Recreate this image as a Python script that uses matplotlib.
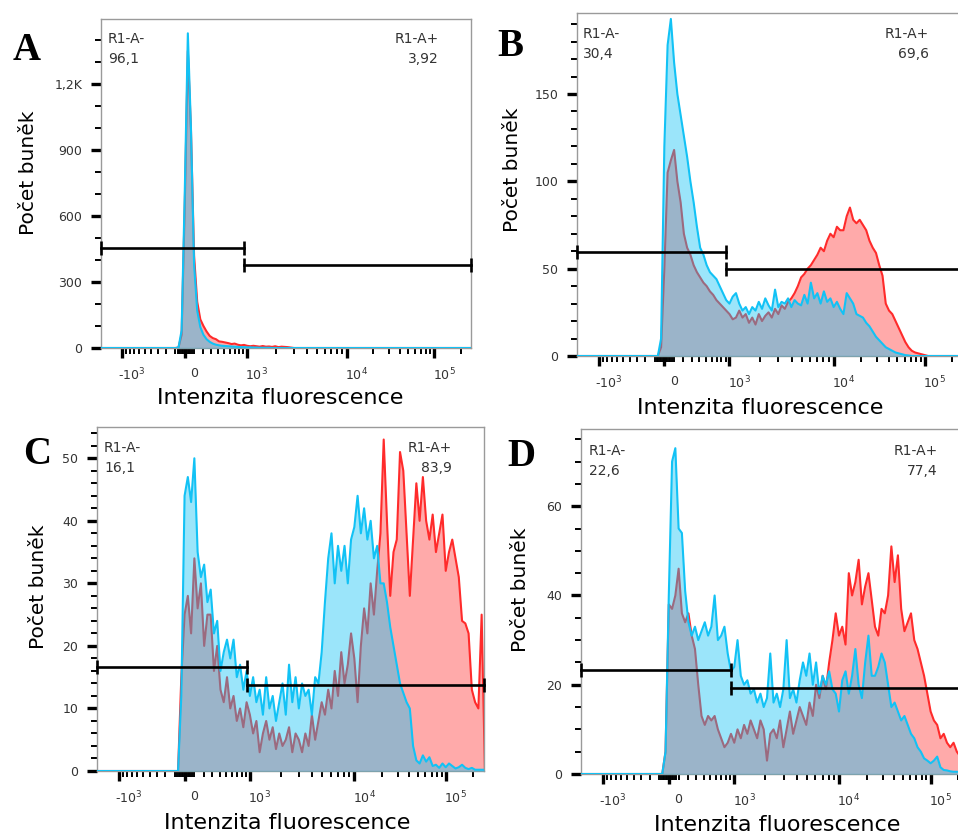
import numpy as np
import matplotlib
matplotlib.use('Agg')
import matplotlib.pyplot as plt
from matplotlib.transforms import ScaledTranslation

plt.rcParams['font.family'] = ['DejaVu Sans']
plt.rcParams['mathtext.fontset'] = 'dejavusans'

# ---------------- data (counts per histogram bin, bins evenly spaced on the display axis) ----------------
A_blue = [0] * 25 + [2, 80, 700, 1430, 1000, 380, 170, 95, 60, 40, 28, 20, 15, 12, 10, 9, 8, 7, 6, 5,
                     4, 4, 3, 3, 2, 2, 1, 1, 1, 1]
A_red = [0] * 25 + [2, 60, 640, 1350, 990, 420, 210, 130, 100, 75, 55, 45, 40, 30, 28, 25, 22, 18, 20, 15,
                    12, 14, 10, 8, 10, 8, 6, 9, 6, 7, 5, 8, 4, 6, 5, 4, 2]

B_blue = [0] * 26 + [10, 120, 178, 193, 168, 150, 138, 126, 114, 100,
                     88, 74, 62, 58, 52, 48, 46, 44, 40, 36,
                     32, 30, 34, 36, 30, 26, 28, 24, 28, 26,
                     31, 27, 33, 29, 26, 38, 28, 31, 30, 33,
                     28, 32, 30, 29, 35, 30, 42, 33, 36, 30,
                     37, 31, 33, 28, 31, 27, 24, 36, 33, 30,
                     24, 23, 22, 19, 17, 14, 11, 9, 7, 5,
                     4, 3, 2, 1.5, 1, 0.5, 0.3]
B_red = [0] * 26 + [5, 50, 105, 112, 118, 100, 88, 70, 62, 58,
                    52, 48, 45, 42, 40, 37, 35, 32, 30, 28,
                    26, 24, 21, 22, 26, 22, 24, 19, 22, 18,
                    24, 20, 23, 25, 22, 27, 24, 29, 27, 31,
                    33, 36, 40, 45, 47, 50, 52, 55, 58, 62,
                    60, 66, 70, 68, 74, 72, 72, 80, 85, 78,
                    76, 78, 75, 72, 66, 62, 59, 52, 46, 30,
                    26, 24, 20, 16, 12, 8, 5, 3, 2, 1.5,
                    1, 0.5]

C_blue = [0] * 26 + [12, 44, 47, 43, 50, 35, 31, 33, 27, 29,
                     22, 24, 16, 19, 21, 18, 21, 15, 17, 13,
                     16, 12, 15, 11, 13, 9, 15, 10, 12, 8,
                     11, 14, 9, 17, 11, 15, 10, 14, 12, 13,
                     9, 15, 14, 19, 27, 34, 38, 30, 36, 32,
                     36, 30, 37, 39, 44, 38, 42, 37, 40, 34,
                     36, 30, 30, 27, 23, 20, 17, 14, 12.5, 11,
                     10, 4, 1.7, 1.2, 2.5, 1.5, 2.2, 0.8, 1, 0.5,
                     1.2, 0.6, 1.2, 0.8, 0.4, 0.6, 1, 0.5, 0.3, 0.5,
                     0.2, 0.2, 0.2, 0.2]
C_red = [0] * 26 + [15, 25, 28, 22, 34, 26, 30, 20, 25, 25,
                    16, 20, 13, 11, 15, 10, 12, 8, 10, 7,
                    11, 9, 6, 8, 3, 6, 8, 5, 7, 3.5,
                    6, 4, 5, 7, 3, 6, 5, 3, 6, 4,
                    9, 5, 8, 11, 9, 13, 10, 16, 12, 19,
                    14, 17, 22, 18, 11, 20, 26, 22, 30, 25,
                    32, 38, 53, 40, 28, 35, 37, 51, 48, 38,
                    28, 37, 46, 40, 47, 40, 37, 41, 35, 38,
                    41, 32, 35, 37, 34, 31, 24, 23.6, 22, 13,
                    11, 10, 25, 0]

D_blue = [0] * 26 + [5, 40, 70, 73, 55, 54, 41, 34, 31, 33,
                     30, 32, 34, 31, 33, 40, 30, 31, 33, 27,
                     23, 24, 30, 22, 20, 21, 18, 19, 16, 18,
                     15, 17, 27, 16, 18, 15, 19, 30, 17, 19,
                     16, 21, 25, 22, 27, 20, 25, 18, 22, 20,
                     23, 19, 18, 14, 21, 23, 18, 22, 28, 20,
                     17, 25, 31, 22, 22, 24, 27, 25, 20, 15,
                     16, 14, 12, 13, 11, 9, 8, 6, 5, 3.5,
                     3, 2.4, 3, 3.9, 1.5, 0.9, 0.8, 0.6, 0.5, 0.5,
                     0.5, 0.5, 0.5, 0.5]
D_red = [0] * 26 + [5, 38, 37, 40, 46, 36, 34, 36, 31, 28,
                    20, 13, 11, 13, 12, 13, 10, 8, 6, 7,
                    9, 7, 10, 8, 11, 9, 12, 10, 8, 12,
                    10, 3, 9, 10, 8, 12, 6, 10, 14, 9,
                    12, 15, 13, 11, 16, 13, 20, 17, 22, 19,
                    25, 30, 36, 31, 33, 29, 45, 40, 43, 48,
                    38, 42, 45, 39, 33, 31, 37, 36, 40, 51,
                    43, 49, 37, 32, 34, 36, 30, 28, 25, 22,
                    18, 14, 12, 11, 8, 9, 7, 6, 7, 5,
                    4, 3, 2, 1]

panel_letters = ['A', 'B', 'C', 'D']
neg_values = ['96,1', '30,4', '16,1', '22,6']
pos_values = ['3,92', '69,6', '83,9', '77,4']
gate_neg_y = [454, 59.4, 16.6, 23.3]
gate_pos_y = [376, 49.7, 13.8, 19.3]
GATE_X = 920
y_major = [[0, 300, 600, 900, 1200], [0, 50, 100, 150], [0, 10, 20, 30, 40, 50], [0, 20, 40, 60]]
y_major_labels = [['0', '300', '600', '900', '1,2K'], ['0', '50', '100', '150'],
                  ['0', '10', '20', '30', '40', '50'], ['0', '20', '40', '60']]
y_minor_step = [100, 10, 2, 5]
y_top = [1495, 196.4, 55.0, 77.3]
x_major = [-1000, 0, 1000, 10000, 100000]
x_major_labels = [r'-$\mathregular{10^3}$', '0', r'$\mathregular{10^3}$', r'$\mathregular{10^4}$', r'$\mathregular{10^5}$']
x_minor = ([-k * 100 for k in range(1, 10)] + [-k * 15 for k in range(1, 6)] + [k * 15 for k in range(1, 6)]
           + [k * 100 for k in range(1, 10)] + [k * 1000 for k in range(2, 10)]
           + [k * 10000 for k in range(2, 10)] + [200000])
X_MIN, X_MAX = -1800, 262144
series = [(A_red, A_blue), (B_red, B_blue), (C_red, C_blue), (D_red, D_blue)]

# ---------------- biexponential-like display scale ----------------
LIN = 400.0
_u = [np.arcsinh(2.5), np.arcsinh(25.0), np.arcsinh(250.0)]
U_ANCH = np.array([-40.0, -_u[0], 0.0, _u[0], _u[1], _u[2], 40.0])
P_ANCH = np.array([-0.25 - 0.25 / _u[0] * (40.0 - _u[0]), -0.25, 0.0, 0.25, 0.65, 1.0,
                   1.0 + 0.35 / (_u[2] - _u[1]) * (40.0 - _u[2])])


def fwd(x):
    return np.interp(np.arcsinh(np.asarray(x, dtype=float) / LIN), U_ANCH, P_ANCH)


def inv(p):
    return LIN * np.sinh(np.interp(np.asarray(p, dtype=float), P_ANCH, U_ANCH))


N_BINS = 120
bin_x = inv(-0.3375 + 0.0125 * np.arange(N_BINS))


def as_bins(v):
    v = list(v)[:N_BINS]
    return np.array(v + [0] * (N_BINS - len(v)), dtype=float)


# ---------------- layout (pixels) ----------------
W, H = 958, 835
fig = plt.figure(figsize=(W / 100, H / 100), dpi=100)
fig.patch.set_facecolor('white')

boxes = [(101, 19, 471, 348), (577, 13, 963, 356), (97, 427, 484, 771), (581, 429, 969, 774)]
letter_xy = [(27, 50), (510, 47), (37, 455), (521, 456)]
ylabel_xy = [(28, 173), (513, 170), (38, 587), (520, 590)]
xlabel_xy = [(280, 398), (760, 408), (287, 823), (777, 825)]
neg_xy = [(108, 39), (583, 34), (104, 448), (589, 451)]
pos_xy = [(439, 39), (929, 34), (452, 448), (938, 451)]


def fx(x):
    return x / W


def fy(y):
    return 1 - y / H


RED = '#ff2b2b'
BLUE = '#12c2f5'
TXT = '#333333'

for i in range(4):
    l, t, r, b = boxes[i]
    ax = fig.add_axes([fx(l), fy(b), (r - l) / W, (b - t) / H])
    ax.set_xscale('function', functions=(fwd, inv))
    ax.set_xlim(X_MIN, X_MAX)
    ax.set_ylim(0, y_top[i])
    red = as_bins(series[i][0])
    blue = as_bins(series[i][1])
    ax.fill_between(bin_x, red, 0, color=RED, alpha=0.4, lw=0, zorder=1)
    ax.plot(bin_x, red, color=RED, lw=1.5, zorder=2)
    ax.fill_between(bin_x, blue, 0, color=BLUE, alpha=0.42, lw=0, zorder=3)
    ax.plot(bin_x, blue, color=BLUE, lw=1.5, zorder=4)

    # gates
    ax.plot([X_MIN, GATE_X], [gate_neg_y[i]] * 2, color='black', lw=1.9, marker='|', ms=10, mew=1.9,
            clip_on=False, zorder=6)
    ax.plot([GATE_X, X_MAX], [gate_pos_y[i]] * 2, color='black', lw=1.9, marker='|', ms=10, mew=1.9,
            clip_on=False, zorder=6)

    # ticks
    ax.set_xticks(x_major, x_major_labels)
    ax.set_xticks(x_minor, minor=True)
    ax.set_yticks(y_major[i], y_major_labels[i])
    ym = [v for v in np.arange(0, y_top[i], y_minor_step[i]) if v not in y_major[i]]
    ax.set_yticks(ym, minor=True)
    ax.tick_params(which='major', direction='out', length=7.5, width=2.4, color='black',
                   labelsize=9, labelcolor=TXT)
    ax.tick_params(which='minor', direction='out', length=4.5, width=1.4, color='black')
    ax.tick_params(axis='y', which='major', pad=6)
    ax.tick_params(axis='x', which='major', pad=6)
    off = ScaledTranslation(7 / 72, 0, fig.dpi_scale_trans)
    for lab in ax.get_xticklabels():
        lab.set_transform(lab.get_transform() + off)
    for sp in ax.spines.values():
        sp.set_color('#9a9a9a')
        sp.set_linewidth(1.0)

    fig.text(fx(neg_xy[i][0]), fy(neg_xy[i][1]), 'R1-A-', ha='left', va='center', fontsize=10, color=TXT)
    fig.text(fx(neg_xy[i][0]), fy(neg_xy[i][1] + 20), neg_values[i], ha='left', va='center', fontsize=10, color=TXT)
    fig.text(fx(pos_xy[i][0]), fy(pos_xy[i][1]), 'R1-A+', ha='right', va='center', fontsize=10, color=TXT)
    fig.text(fx(pos_xy[i][0]), fy(pos_xy[i][1] + 20), pos_values[i], ha='right', va='center', fontsize=10, color=TXT)

    fig.text(fx(letter_xy[i][0]), fy(letter_xy[i][1]), panel_letters[i], ha='center', va='center',
             fontsize=28, fontweight='bold', family='Liberation Serif', color='black')
    fig.text(fx(ylabel_xy[i][0]), fy(ylabel_xy[i][1]), 'Počet buněk', rotation=90, ha='center', va='center',
             fontsize=14.5, color='black')
    fig.text(fx(xlabel_xy[i][0]), fy(xlabel_xy[i][1]), 'Intenzita fluorescence', ha='center', va='center',
             fontsize=16, color='black')

fig.savefig('out.png', dpi=100, facecolor='white')
